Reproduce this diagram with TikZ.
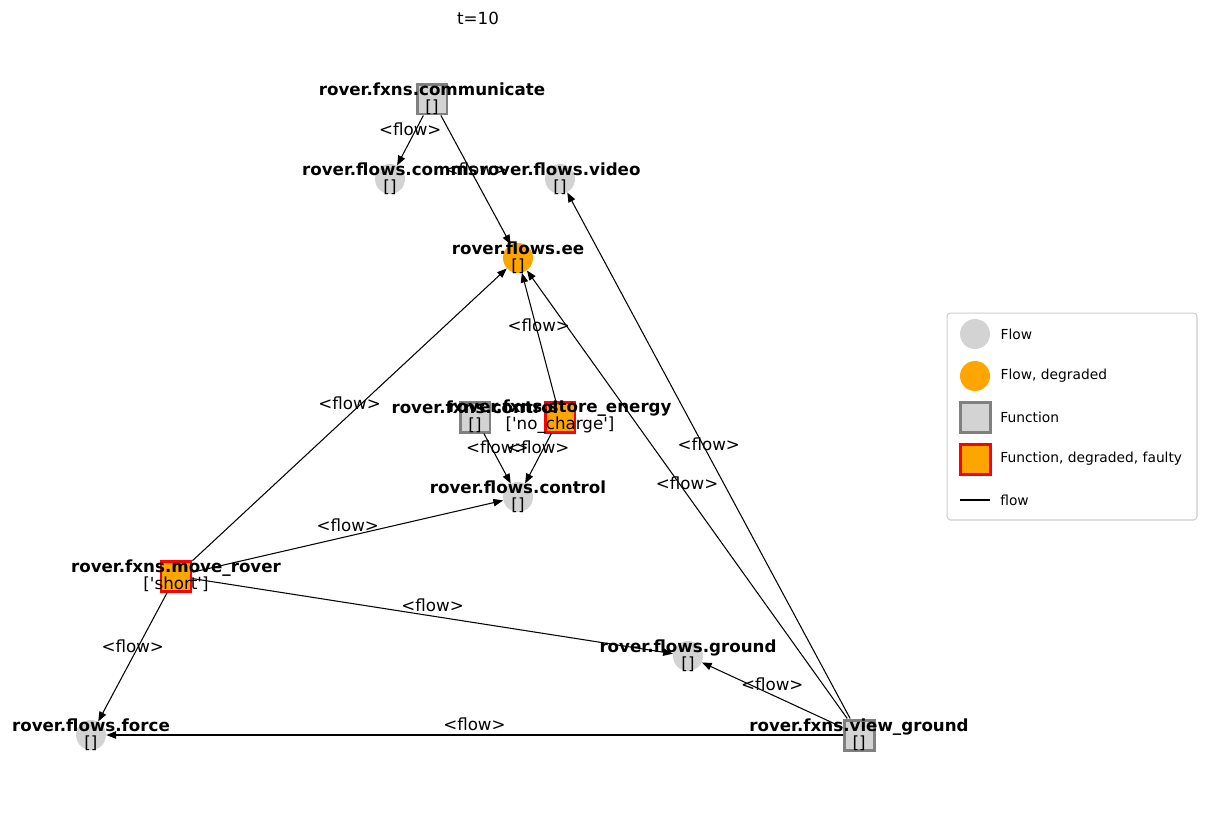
\documentclass[tikz,border=0pt]{standalone}
\usepackage{fontspec}
\setmainfont{DejaVu Sans}
\usetikzlibrary{arrows.meta, positioning}
\definecolor{flowgray}{HTML}{D3D3D3}
\definecolor{fxnedge}{HTML}{808080}
\definecolor{degraded}{HTML}{FFA500}
\definecolor{legendedge}{HTML}{CCCCCC}
\newcommand{\sq}{\textquotesingle}

\begin{document}
\begin{tikzpicture}[
			x=0.02cm, y=-0.02cm,
			flw/.style={circle, fill=flowgray, minimum size=0.6cm, inner sep=0pt},
			flwdeg/.style={flw, fill=degraded},
			fxn/.style={rectangle, fill=flowgray, draw=fxnedge, line width=1.7pt, minimum size=0.6cm, inner sep=0pt},
			fxnfault/.style={fxn, fill=degraded, draw=red},
			nodetxt/.style={align=center, font=\fontsize{9.5}{9.8}\selectfont, inner sep=0pt},
			flowline/.style={-{Triangle[length=5.5pt,width=4.2pt]}, line width=0.6pt},
			edgelab/.style={midway, font=\fontsize{9.5}{9.8}\selectfont, yshift=0.22cm, inner sep=0pt},
			legbox/.style={draw=legendedge, rounded corners=2pt, line width=0.6pt, minimum width=5cm, minimum height=4.14cm},
			legtxt/.style={font=\fontsize{7.85}{9}\selectfont, anchor=west, inner sep=0pt}
			]
			\useasboundingbox (0,0) rectangle (1206,812);
			
			% Title
			\node[nodetxt] (title) at (478,18) {t=10};
			
			% Functions
			\node[fxn] (com) at (432,99) {};
			\node[fxn] (ctlf) at (475,417) {};
			\node[fxnfault] (store) at (560,417) {};
			\node[fxnfault] (move) at (176,576) {};
			\node[fxn] (view) at (859,735) {};
			
			% Flows
			\node[flw] (comms) at (390,179) {};
			\node[flw] (video) at (560,179) {};
			\node[flwdeg] (ee) at (518,258) {};
			\node[flw] (ctl) at (518,497) {};
			\node[flw] (ground) at (688,656) {};
			\node[flw] (force) at (91,735) {};
			
			% Arrows
			\draw[flowline] (com) -- (comms) node[edgelab] {<flow>};
			\draw[flowline] (com) -- (ee) node[edgelab] {<flow>};
			\draw[flowline] (move) -- (ee) node[edgelab] {<flow>};
			\draw[flowline] (store) -- (ee) node[edgelab] {<flow>};
			\draw[flowline] (view) -- (ee) node[edgelab] {<flow>};
			\draw[flowline] (view) -- (video) node[edgelab] {<flow>};
			\draw[flowline] (ctlf) -- (ctl) node[edgelab] {<flow>};
			\draw[flowline] (store) -- (ctl) node[edgelab] {<flow>};
			\draw[flowline] (move) -- (ctl) node[edgelab] {<flow>};
			\draw[flowline] (move) -- (ground) node[edgelab] {<flow>};
			\draw[flowline] (move) -- (force) node[edgelab] {<flow>};
			\draw[flowline] (view) -- (ground) node[edgelab] {<flow>};
			\draw[flowline] (view) -- (force) node[edgelab] {<flow>};
			
			% Node labels
			\node[nodetxt] at (com) {\textbf{rover.fxns.communicate}\\{[]}};
			\node[nodetxt] at (comms) {\textbf{rover.flows.comms}\\{[]}};
			\node[nodetxt] at (video) {\textbf{rover.flows.video}\\{[]}};
			\node[nodetxt] at (ee) {\textbf{rover.flows.ee}\\{[]}};
			\node[nodetxt] at (ctlf) {\textbf{rover.fxns.control}\\{[]}};
			\node[nodetxt] at (store) {\textbf{rover.fxns.store\_energy}\\{[\sq no\_charge\sq]}};
			\node[nodetxt] at (ctl) {\textbf{rover.flows.control}\\{[]}};
			\node[nodetxt] at (move) {\textbf{rover.fxns.move\_rover}\\{[\sq short\sq]}};
			\node[nodetxt] at (ground) {\textbf{rover.flows.ground}\\{[]}};
			\node[nodetxt] at (force) {\textbf{rover.flows.force}\\{[]}};
			\node[nodetxt] at (view) {\textbf{rover.fxns.view\_ground}\\{[]}};
			
			% Legend
			\node[legbox] (legend) at (1072,416.5) {};
			\node[flw] (lflow) at (975,334) {};
			\node[legtxt, right=0.2cm of lflow] {Flow};
			\node[flwdeg] (lflowdeg) at (975,376) {};
			\node[legtxt, right=0.2cm of lflowdeg] {Flow, degraded};
			\node[fxn] (lfxn) at (975,417) {};
			\node[legtxt, right=0.17cm of lfxn] {Function};
			\node[fxnfault] (lfxnfault) at (975,459) {};
			\node[legtxt, right=0.17cm of lfxnfault] {Function, degraded, faulty};
			\coordinate (la) at (960,500);
			\coordinate (lb) at (990,500);
			\draw[line width=0.8pt] (la) -- (lb);
			\node[legtxt, right=0.2cm of lb] {flow};
			
		\end{tikzpicture}
\end{document}
